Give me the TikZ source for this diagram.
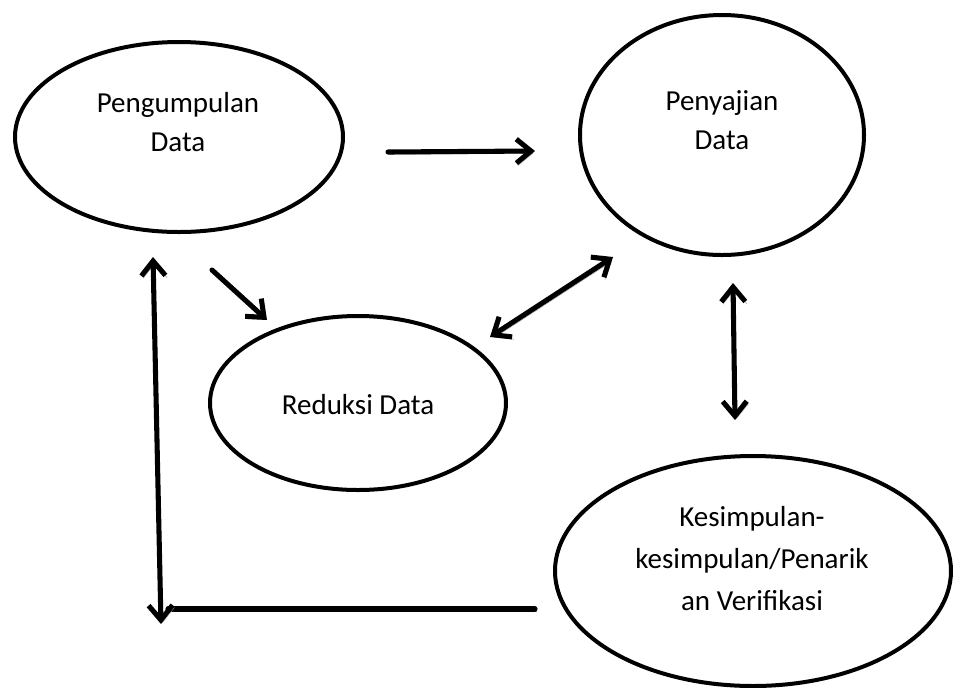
\documentclass[tikz,border=0pt]{standalone}
\usepackage{fontspec}
\setmainfont{Carlito}
\usetikzlibrary{arrows.meta,shapes.geometric}
\begin{document}
\begin{tikzpicture}[x=0.75pt,y=-0.75pt,
  oval/.style={draw=black, line width=3pt, ellipse, inner sep=0pt},
  lbl/.style={align=center, font=\fontsize{21.75pt}{29.25pt}\selectfont, inner sep=0pt},
  conn/.style={line width=3.8pt, line cap=round,
    preaction={draw=black!35, transform canvas={shift={(1.3pt,-1.8pt)}}}},
  tip/.style={-{Straight Barb[length=11pt,width=18pt,line width=3.8pt]}},
  tips/.style={{Straight Barb[length=11pt,width=18pt,line width=3.8pt]}-{Straight Barb[length=11pt,width=18pt,line width=3.8pt]}}]
\useasboundingbox (0,0) rectangle (954,687);
% ellipses
\node[oval, minimum width=246pt, minimum height=142.5pt] (e1) at (179,137) {};
\node[oval, minimum width=213pt, minimum height=180pt] (e2) at (722,135) {};
\node[oval, minimum width=222pt, minimum height=130.5pt] (e3) at (358,403) {};
\node[oval, minimum width=297pt, minimum height=172.5pt] (e4) at (753,571) {};
% labels
\node[lbl] (t1) at (178,122) {Pengumpulan\\Data};
\node[lbl] (t2) at (722,120) {Penyajian\\Data};
\node[lbl] (t3) at (358,405) {Reduksi Data};
\node[lbl, font=\fontsize{21.75pt}{31.5pt}\selectfont] (t4) at (752,559) {Kesimpulan-\\kesimpulan/Penarik\\an Verifikasi};
% connector end points
\coordinate (h1) at (388,152);
\coordinate (h2) at (535,151);
\coordinate (d1) at (212,270);
\coordinate (d2) at (267,320);
\coordinate (b1) at (490,337);
\coordinate (b2) at (613,257);
\coordinate (v1) at (733,283);
\coordinate (v2) at (735,420);
\coordinate (l1) at (153,257);
\coordinate (l2) at (161,624);
\coordinate (m1) at (535,609);
\coordinate (m2) at (168,609);
% connectors
\draw[conn] (m1) -- (m2);
\draw[conn, tip] (h1) -- (h2);
\draw[conn, tip] (d1) -- (d2);
\draw[conn, tips] (b1) -- (b2);
\draw[conn, tips] (v1) -- (v2);
\draw[conn, tips] (l1) -- (l2);
\end{tikzpicture}
\end{document}
